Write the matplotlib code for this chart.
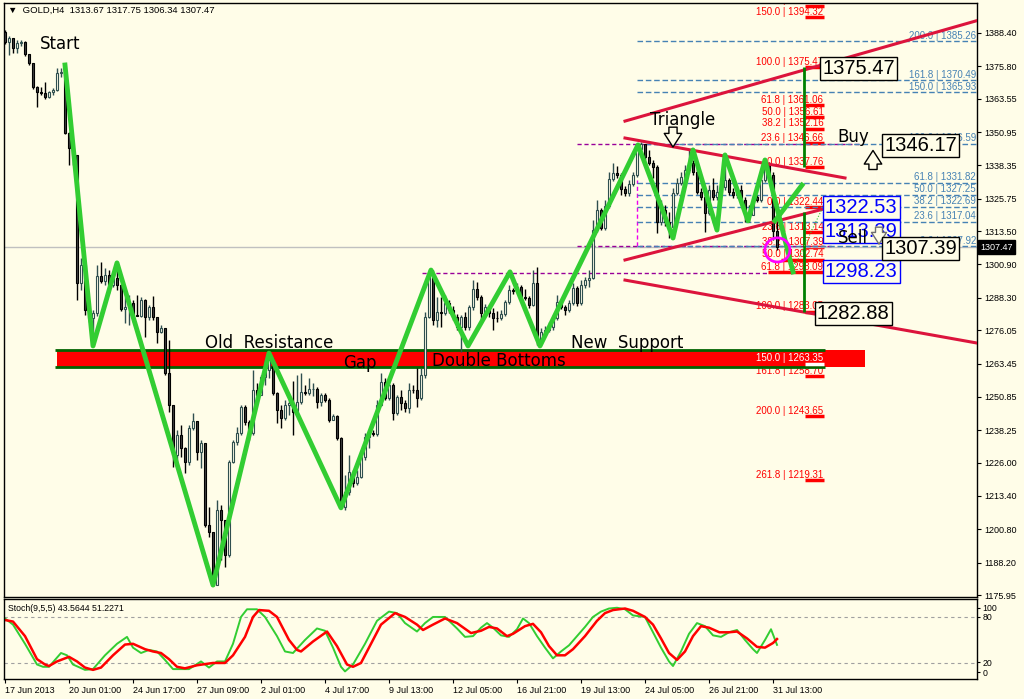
import matplotlib
matplotlib.use('Agg')
import matplotlib.pyplot as plt
from matplotlib.patches import Ellipse, Rectangle
import numpy as np

# ---------------- data ----------------
time_labels = ['17 Jun 2013', '20 Jun 01:00', '24 Jun 17:00', '27 Jun 09:00', '2 Jul 01:00',
               '4 Jul 17:00', '9 Jul 13:00', '12 Jul 05:00', '16 Jul 21:00', '19 Jul 13:00',
               '24 Jul 05:00', '26 Jul 21:00', '31 Jul 13:00']
time_label_bars = [0, 16, 32, 48, 64, 80, 96, 112, 128, 144, 160, 176, 192]

price_ticks = [1388.40, 1375.80, 1363.55, 1350.95, 1338.35, 1325.75, 1313.50, 1300.90, 1288.30,
               1276.05, 1263.45, 1250.85, 1238.25, 1226.00, 1213.40, 1200.80, 1188.20, 1175.95]

# H4 candles (open of each bar = close of the previous one)
first_open = 1388.9
close = [
    1385.0, 1386.5, 1382.7, 1384.6, 1385.0, 1380.5, 1377.1, 1368.0, 1366.1, 1365.8,
    1364.2, 1366.1, 1366.9, 1373.3, 1373.6, 1350.6, 1344.9, 1342.3, 1293.9, 1300.7,
    1283.7, 1280.7, 1282.6, 1296.5, 1294.7, 1296.9, 1293.1, 1295.8, 1293.1, 1284.1,
    1284.8, 1286.3, 1281.8, 1281.6, 1287.5, 1281.0, 1284.8, 1281.0, 1275.4, 1276.9,
    1259.9, 1247.8, 1228.9, 1236.4, 1231.5, 1226.2, 1239.1, 1241.7, 1230.0, 1233.4,
    1202.4, 1199.8, 1179.7, 1208.1, 1204.3, 1191.1, 1226.2, 1233.8, 1237.2, 1247.0,
    1241.4, 1237.2, 1253.5, 1251.6, 1258.4, 1261.0, 1264.8, 1252.3, 1245.9, 1242.9,
    1247.8, 1248.5, 1245.1, 1248.9, 1252.7, 1252.3, 1253.8, 1253.9, 1248.9, 1251.6,
    1249.7, 1242.1, 1243.6, 1235.3, 1209.2, 1214.9, 1222.5, 1218.3, 1220.6, 1228.1,
    1235.7, 1237.2, 1236.8, 1247.8, 1256.5, 1250.4, 1255.3, 1244.8, 1250.8, 1248.5,
    1246.6, 1253.5, 1253.3, 1250.4, 1259.1, 1281.0, 1297.7, 1279.9, 1282.9, 1282.6,
    1286.3, 1283.7, 1281.0, 1277.3, 1281.0, 1277.3, 1284.8, 1291.6, 1288.6, 1282.6,
    1284.8, 1282.6, 1280.7, 1280.5, 1282.2, 1286.7, 1291.3, 1290.9, 1292.4, 1288.6,
    1288.2, 1285.6, 1293.9, 1272.4, 1275.4, 1276.1, 1277.3, 1280.7, 1286.7, 1284.8,
    1283.7, 1286.3, 1292.0, 1286.3, 1293.1, 1295.0, 1295.8, 1313.9, 1321.5, 1314.7,
    1323.0, 1333.2, 1335.5, 1334.7, 1329.4, 1327.9, 1331.3, 1334.7, 1344.5, 1346.4,
    1341.5, 1339.3, 1337.7, 1317.0, 1321.5, 1317.0, 1315.1, 1327.9, 1331.7, 1334.0,
    1336.6, 1339.3, 1335.9, 1328.3, 1326.4, 1320.4, 1329.1, 1326.4, 1328.3, 1330.2,
    1332.8, 1328.3, 1327.2, 1329.1, 1325.3, 1320.4, 1319.6, 1326.4, 1325.3, 1332.8,
    1339.3, 1334.7, 1313.67, 1307.47]
high = [
    1389.5, 1387.3, 1386.5, 1385.8, 1385.8, 1385.4, 1380.5, 1377.1, 1368.4, 1368.0,
    1369.9, 1366.5, 1367.6, 1375.2, 1375.2, 1376.3, 1351.0, 1345.7, 1342.3, 1303.4,
    1301.8, 1285.6, 1283.7, 1300.7, 1301.8, 1299.6, 1298.8, 1296.9, 1301.5, 1293.5,
    1288.6, 1289.4, 1287.5, 1289.4, 1288.6, 1287.9, 1285.6, 1289.0, 1281.0, 1278.0,
    1276.9, 1272.4, 1247.8, 1238.3, 1240.2, 1231.9, 1240.2, 1244.8, 1241.7, 1234.6,
    1233.4, 1209.2, 1199.8, 1211.9, 1210.0, 1204.3, 1227.0, 1234.6, 1239.5, 1247.8,
    1247.8, 1242.1, 1261.0, 1256.1, 1259.1, 1264.8, 1267.4, 1265.5, 1252.7, 1247.8,
    1249.7, 1251.6, 1257.0, 1259.1, 1259.9, 1255.3, 1258.0, 1256.1, 1254.6, 1252.3,
    1252.3, 1250.4, 1244.4, 1244.0, 1235.7, 1221.3, 1228.9, 1223.2, 1223.2, 1229.6,
    1237.2, 1238.3, 1238.3, 1249.7, 1259.9, 1258.0, 1256.1, 1256.1, 1251.6, 1253.5,
    1249.7, 1256.1, 1255.3, 1261.8, 1261.8, 1282.9, 1298.8, 1298.8, 1288.6, 1288.6,
    1289.4, 1287.5, 1285.2, 1282.2, 1281.8, 1282.9, 1285.6, 1295.0, 1294.3, 1289.4,
    1286.0, 1285.6, 1284.5, 1283.3, 1283.7, 1287.5, 1293.1, 1292.0, 1293.9, 1293.1,
    1291.6, 1289.0, 1298.8, 1299.9, 1276.9, 1277.6, 1279.2, 1281.8, 1289.4, 1287.5,
    1285.6, 1287.5, 1293.9, 1292.8, 1295.0, 1296.2, 1298.8, 1317.7, 1325.3, 1322.2,
    1325.3, 1335.9, 1339.3, 1338.1, 1335.5, 1330.6, 1332.8, 1335.9, 1345.7, 1347.2,
    1346.1, 1344.2, 1340.4, 1338.5, 1325.3, 1323.4, 1320.7, 1329.8, 1333.6, 1335.9,
    1338.5, 1344.2, 1340.4, 1337.4, 1329.8, 1327.2, 1330.9, 1333.6, 1330.9, 1332.8,
    1340.4, 1333.6, 1329.8, 1330.6, 1330.9, 1326.4, 1323.4, 1327.2, 1327.2, 1334.7,
    1340.4, 1339.7, 1335.9, 1317.75]
low = [
    1384.2, 1380.1, 1380.8, 1380.8, 1383.5, 1379.7, 1376.3, 1367.2, 1360.4, 1365.0,
    1363.4, 1363.8, 1365.0, 1366.5, 1371.8, 1350.2, 1338.5, 1338.5, 1287.5, 1291.3,
    1281.8, 1279.2, 1270.1, 1281.4, 1293.9, 1293.1, 1290.1, 1292.4, 1291.3, 1283.3,
    1278.8, 1278.0, 1279.2, 1281.4, 1281.0, 1273.5, 1279.9, 1279.9, 1271.2, 1275.0,
    1259.1, 1245.1, 1224.3, 1224.0, 1228.1, 1222.1, 1225.1, 1238.3, 1227.0, 1224.0,
    1201.7, 1197.9, 1179.4, 1189.2, 1189.2, 1186.5, 1190.3, 1225.9, 1232.7, 1236.4,
    1240.2, 1234.6, 1236.4, 1248.5, 1251.6, 1255.3, 1258.0, 1251.6, 1241.0, 1239.1,
    1242.1, 1244.0, 1236.4, 1244.4, 1248.2, 1251.6, 1251.6, 1251.2, 1246.6, 1247.4,
    1248.9, 1241.4, 1242.1, 1234.6, 1208.9, 1208.1, 1213.8, 1216.8, 1217.5, 1220.2,
    1227.0, 1231.5, 1236.1, 1236.1, 1247.4, 1249.7, 1249.7, 1242.1, 1244.0, 1245.9,
    1245.1, 1244.8, 1252.3, 1247.0, 1249.7, 1258.0, 1280.7, 1278.0, 1277.3, 1277.3,
    1281.8, 1282.6, 1279.9, 1276.1, 1267.8, 1276.1, 1276.1, 1283.7, 1287.5, 1279.9,
    1281.4, 1281.0, 1276.1, 1279.2, 1279.9, 1281.4, 1286.0, 1289.7, 1290.5, 1287.9,
    1287.5, 1284.5, 1285.2, 1270.5, 1273.9, 1274.6, 1275.4, 1276.1, 1279.9, 1284.1,
    1281.8, 1282.9, 1285.6, 1285.2, 1285.6, 1292.0, 1292.4, 1295.4, 1313.2, 1313.9,
    1313.9, 1322.2, 1332.5, 1333.6, 1327.2, 1326.8, 1326.8, 1330.6, 1334.0, 1341.9,
    1340.4, 1338.5, 1333.6, 1312.8, 1315.8, 1315.4, 1310.9, 1314.7, 1327.2, 1330.9,
    1332.8, 1335.5, 1334.7, 1327.5, 1325.3, 1313.2, 1319.6, 1325.3, 1325.3, 1327.2,
    1329.1, 1327.2, 1326.0, 1326.0, 1324.1, 1317.0, 1317.0, 1319.6, 1324.5, 1324.5,
    1332.1, 1333.6, 1310.2, 1306.34]

# hand drawn zigzag (bar index, price)
zigzag_bars = [15, 22, 28, 52, 66, 84, 106.5, 115.75, 126.25, 133.75, 158.25, 167, 172, 178, 180,
               185.75, 190, 197]
zigzag_prices = [1376.3, 1270.1, 1301.5, 1179.7, 1267.4, 1208.9, 1298.8, 1270.1, 1298.1, 1270.1,
                 1346.1, 1310.9, 1344.2, 1313.9, 1342.3, 1317.4, 1340.4, 1298.1]
projection_bars = [192.5, 199.25]
projection_prices = [1317.4, 1330.9]

# red trend lines: channel top, triangle top, triangle bottom, channel bottom
trend_bars = [[155, 243.5], [155, 210], [155, 205.5], [155, 243]]
trend_prices = [[1355.1, 1393.3], [1348.7, 1333.6], [1302.6, 1322.2], [1295.0, 1271.2]]

# fibonacci sets
upper_fib_pct = [161.8, 150.0, 100.0, 61.8, 50.0, 38.2, 23.6, 0.0]
upper_fib_price = [1398.78, 1394.32, 1375.47, 1361.06, 1356.61, 1352.16, 1346.66, 1337.76]
lower_fib_pct = [0.0, 23.6, 38.2, 50.0, 61.8, 100.0, 150.0, 161.8, 200.0, 261.8]
lower_fib_price = [1322.44, 1313.14, 1307.39, 1302.74, 1298.09, 1283.05, 1263.35, 1258.70,
                   1243.65, 1219.31]
blue_fib_pct = [200.0, 161.8, 150.0, 100.0, 61.8, 50.0, 38.2, 23.6, 0.0]
blue_fib_price = [1385.26, 1370.49, 1365.93, 1346.59, 1331.82, 1327.25, 1322.69, 1317.04, 1307.92]

# support / resistance band
band_low, band_high = 1262.1, 1268.4
last_price = 1307.47

# stochastic (9,5,5) main and signal line
k_bars = [0, 2, 5, 8, 9.5, 11, 14, 15.5, 17, 20, 22, 25, 28, 30.5, 32, 34, 36, 38, 40, 42,
          46, 49, 51, 53, 55, 57, 59, 60.5, 63, 65, 68, 70, 72, 75, 78, 80, 82, 84, 85, 87,
          90, 93, 96, 98, 100, 103, 105, 107, 110, 113, 115, 117, 119, 120.5, 122, 124, 126, 128, 129.5, 131,
          133, 135, 137, 139, 141, 143, 145, 147, 149, 151, 153, 155, 157, 160, 162, 164, 166, 167, 169, 171,
          173, 175, 177, 179, 181, 183, 185, 187, 188, 190, 191.5, 193]
k_vals = [78, 70, 45, 18, 15, 15, 33, 30, 18, 11, 12, 30, 45, 54, 40, 33, 37, 35, 24, 12,
          12, 22, 14, 22, 22, 45, 80, 90, 90, 80, 55, 35, 33, 50, 65, 62, 40, 15, 9, 18,
          45, 75, 87, 85, 72, 61, 72, 80, 80, 65, 54, 55, 66, 72, 66, 56, 54, 64, 78, 72,
          55, 40, 26, 35, 43, 55, 67, 80, 87, 91, 92, 90, 82, 80, 60, 40, 22, 16, 35, 58,
          72, 68, 56, 54, 60, 63, 50, 38, 33, 50, 64, 43.6]
d_bars = [0, 2, 5, 8, 10, 11, 13, 16, 18, 20, 22, 24, 27, 30, 32, 35, 37, 39, 41, 43,
          45, 48, 52, 55, 57, 60, 62, 63.5, 66, 68, 71, 73, 74, 77, 80.5, 83, 85.5, 87, 89, 91,
          94, 97.5, 100, 103, 104.5, 107, 110, 113, 116.5, 119, 121, 123, 125.5, 127, 130, 132, 134, 136, 138, 140,
          142, 145, 148, 150, 152, 155, 157, 160, 162, 164, 166, 168, 170, 172, 174, 176, 178.6, 181, 183, 185.5,
          188, 190, 192, 193]
d_vals = [76, 74, 55, 25, 18, 16, 22, 28, 22, 14, 11, 14, 30, 44, 45, 38, 35, 33, 25, 15,
          13, 17, 20, 20, 30, 54, 80, 89, 88, 80, 50, 37, 35, 48, 61, 42, 18, 15, 20, 40,
          70, 85, 80, 70, 63, 70, 78, 72, 59, 62, 67, 65, 55, 58, 68, 71, 60, 42, 30, 30,
          38, 55, 75, 85, 89, 91, 88, 80, 70, 52, 33, 24, 35, 55, 68, 66, 60, 60, 61, 52,
          41, 40, 46, 51.2]

# ---------------- styling ----------------
bg = '#FFFDE8'
small_font = ['Liberation Sans', 'DejaVu Sans']
plt.rcParams['font.family'] = ['DejaVu Sans']

fig = plt.figure(figsize=(10.24, 6.99), dpi=100, facecolor=bg)
ax = fig.add_axes([4/1024, 102/699, 973/1024, 594/699], facecolor=bg)
ax2 = fig.add_axes([4/1024, 20/699, 973/1024, 80/699], facecolor=bg)

ax.set_xlim(-0.25, 243)
ax.set_ylim(1175.2, 1399.74)
ax2.set_xlim(-0.25, 243)
ax2.set_ylim(-0.9, 103.4)

# support band with dark green borders
ax.add_patch(Rectangle((13, band_low), 202, band_high - band_low, fc='#FF0000', ec='none', zorder=2))
ax.hlines([band_high, band_low], 12.5, 205, color='#006400', lw=2, zorder=2.1)

# current price line
ax.axhline(last_price, color='#C0C0C0', lw=1, zorder=1.5)

# candles
x = np.arange(len(close))
o = np.array([first_open] + close[:-1])
c = np.array(close)
h = np.maximum(np.array(high), np.maximum(o, c))
l = np.minimum(np.array(low), np.minimum(o, c))
up = c >= o
body_lo = np.minimum(o, c)
body_h = np.abs(c - o)
ax.vlines(x[up], l[up], h[up], color='#2F4F4F', lw=1, zorder=3)
ax.vlines(x[~up], l[~up], h[~up], color='black', lw=1, zorder=3)
ax.bar(x[up], body_h[up], bottom=body_lo[up], width=0.6, color=bg, edgecolor='#2F4F4F', lw=0.8, zorder=3.1)
ax.bar(x[~up], body_h[~up], bottom=body_lo[~up], width=0.6, color='#404040', edgecolor='black', lw=0.8, zorder=3.1)

# zigzag and projections
ax.plot(zigzag_bars, zigzag_prices, color='#32CD32', lw=3.5, zorder=4)
ax.plot(projection_bars, projection_prices, color='#32CD32', lw=3.5, zorder=4)
ax.plot([197, 204.25], [1298.8, 1321.9], color='#32CD32', lw=0.8, ls=':', zorder=4)

# red trend lines
for tb, tp in zip(trend_bars, trend_prices):
    ax.plot(tb, tp, color='#DC143C', lw=2.2, zorder=3.5)

# purple dashed levels and vertical marker
purple = '#990099'
ax.hlines(1346.59, 143, 214, color=purple, lw=1, ls=(0, (3, 2)), zorder=1.6)
ax.hlines(1307.9, 143, 207, color=purple, lw=1, ls=(0, (3, 2)), zorder=1.6)
ax.hlines(1297.7, 104.25, 190.5, color=purple, lw=1, ls=(0, (3, 2)), zorder=1.6)
ax.vlines(158, 1307.9, 1332.8, color='#EE00EE', lw=1, ls=(0, (3, 2)), zorder=1.6)

# blue fibonacci expansion
for pct, price in zip(blue_fib_pct, blue_fib_price):
    ax.hlines(price, 158, 243, color='#4682B4', lw=1, ls=(0, (4, 2)), zorder=1.6)
    ax.text(242.75, price + 0.9, '%.1f | %.2f' % (pct, price), color='#4682B4', fontsize=7,
            family=small_font, ha='right', va='baseline', zorder=1.7)

# red fibonacci levels
for pct, price in zip(upper_fib_pct + lower_fib_pct, upper_fib_price + lower_fib_price):
    col = 'white' if price == 1263.35 else '#FF0000'
    z = 2.5 if price == 1263.35 else 1.2
    x0 = 200
    if price == 1298.09:
        x0 = 190.75
    elif price == 1302.74:
        x0 = 194
    ax.hlines(price, x0, 204.8, color=col, lw=2.5, zorder=z)
    ax.text(204.6, price + 0.9, '%.1f | %.2f' % (pct, price), color=col, fontsize=7,
            family=small_font, ha='right', va='baseline', zorder=z, clip_on=True)

# green vertical measure lines
ax.vlines(199.75, 1337.76, 1375.47, color='#008000', lw=2, zorder=3.6)
ax.vlines(199.75, 1283.05, 1320.7, color='#008000', lw=2, zorder=3.6)

# magenta circle
ax.add_patch(Ellipse((193.1, 1306.4), 6.25, 9.1, fill=False, ec='#FF00FF', lw=2, zorder=4.5))

# annotations
ax.text(8.75, 1384.2, 'Start', fontsize=12, va='center', zorder=5)
ax.text(50, 1271.2, 'Old  Resistance', fontsize=12, va='center', zorder=5)
ax.text(84.5, 1263.7, 'Gap', fontsize=12, va='center', zorder=5)
ax.text(106.75, 1264.4, 'Double Bottoms', fontsize=12, va='center', zorder=5)
ax.text(141.5, 1271.2, 'New  Support', fontsize=12, va='center', zorder=5)
ax.text(161.25, 1355.5, 'Triangle', fontsize=12, va='center', zorder=5)
ax.text(208, 1349.1, 'Buy', fontsize=12, va='center', zorder=5)
ax.text(208.25, 1310.9, 'Sell', fontsize=12, va='center', zorder=5.5)

# hollow block arrows (Triangle, Buy, Sell)
arrow_style = 'simple,head_width=0.9,head_length=0.7,tail_width=0.42'
ax.annotate('', xy=(167, 1345.3), xytext=(167, 1352.8),
            arrowprops=dict(arrowstyle=arrow_style, fc=bg, ec='black', lw=1, mutation_scale=14,
                            shrinkA=0, shrinkB=0), zorder=5)
ax.annotate('', xy=(217, 1344.0), xytext=(217, 1336.8),
            arrowprops=dict(arrowstyle=arrow_style, fc=bg, ec='black', lw=1, mutation_scale=14,
                            shrinkA=0, shrinkB=0), zorder=5)
ax.annotate('', xy=(218.5, 1308.6), xytext=(218.5, 1315.0),
            arrowprops=dict(arrowstyle=arrow_style, fc=bg, ec='#707070', lw=1, mutation_scale=12,
                            shrinkA=0, shrinkB=0), zorder=5.5)

# boxed price labels
black_boxes = [(204.25, 1375.0, '1375.47'), (219.75, 1345.7, '1346.17'),
               (219.75, 1307.0, '1307.39'), (203.0, 1282.4, '1282.88')]
blue_boxes = [(205.0, 1322.4, '1322.53'), (205.0, 1313.4, '1313.39'), (205.0, 1298.3, '1298.23')]
for bx, by, txt in black_boxes:
    ax.text(bx, by, txt, fontsize=14.5, family=small_font, color='black', ha='left', va='center', zorder=6,
            bbox=dict(boxstyle='square,pad=0.1', fc=bg, ec='black', lw=1))
for bx, by, txt in blue_boxes:
    ax.text(bx, by, txt, fontsize=14.5, family=small_font, color='#0000FF', ha='left', va='center', zorder=5.2,
            bbox=dict(boxstyle='square,pad=0.1', fc=bg, ec='#0000FF', lw=1))

# header
ax.text(0.004, 0.988, '\u25bc  GOLD,H4  1313.67 1317.75 1306.34 1307.47', transform=ax.transAxes,
        fontsize=6.8, family=small_font, va='center', ha='left', zorder=6)

# right price axis
ax.yaxis.tick_right()
ax.set_yticks(price_ticks)
ax.set_yticklabels(['%.2f' % p for p in price_ticks])
ax.tick_params(axis='y', length=3, width=0.8, pad=2, labelsize=6.5)
for lbl in ax.get_yticklabels():
    lbl.set_family(small_font)
ax.tick_params(axis='x', bottom=False, labelbottom=False)
ax.text(1.003, last_price, '%.2f' % last_price, transform=ax.get_yaxis_transform(), fontsize=6.5,
        family=small_font, color='white', ha='left', va='center',
        bbox=dict(boxstyle='square,pad=0.25', fc='black', ec='black'), clip_on=False)
for s in ax.spines.values():
    s.set_color('black')
    s.set_linewidth(1)

# stochastic panel
ax2.axhline(80, color='#A0A0A0', lw=0.8, ls=(0, (3, 3)))
ax2.axhline(20, color='#A0A0A0', lw=0.8, ls=(0, (3, 3)))
ax2.plot(k_bars, k_vals, color='#32CD32', lw=1.4)
ax2.plot(d_bars, d_vals, color='#FF0000', lw=1.8)
ax2.text(0.004, 0.88, 'Stoch(9,5,5) 43.5644 51.2271', transform=ax2.transAxes, fontsize=6.3,
         family=small_font, va='center', ha='left')
ax2.yaxis.tick_right()
ax2.set_yticks([92, 80, 21, 8])
ax2.set_yticklabels(['100', '80', '20', '0'])
ax2.tick_params(axis='y', length=2, pad=2, labelsize=6.3)
ax2.set_xticks(time_label_bars)
ax2.set_xticklabels(time_labels, ha='left')
ax2.tick_params(axis='x', length=3, pad=2, labelsize=6.5)
for lbl in ax2.get_xticklabels() + ax2.get_yticklabels():
    lbl.set_family(small_font)
for s in ax2.spines.values():
    s.set_color('black')
    s.set_linewidth(1)

fig.savefig('out.png', dpi=100, facecolor=bg)
